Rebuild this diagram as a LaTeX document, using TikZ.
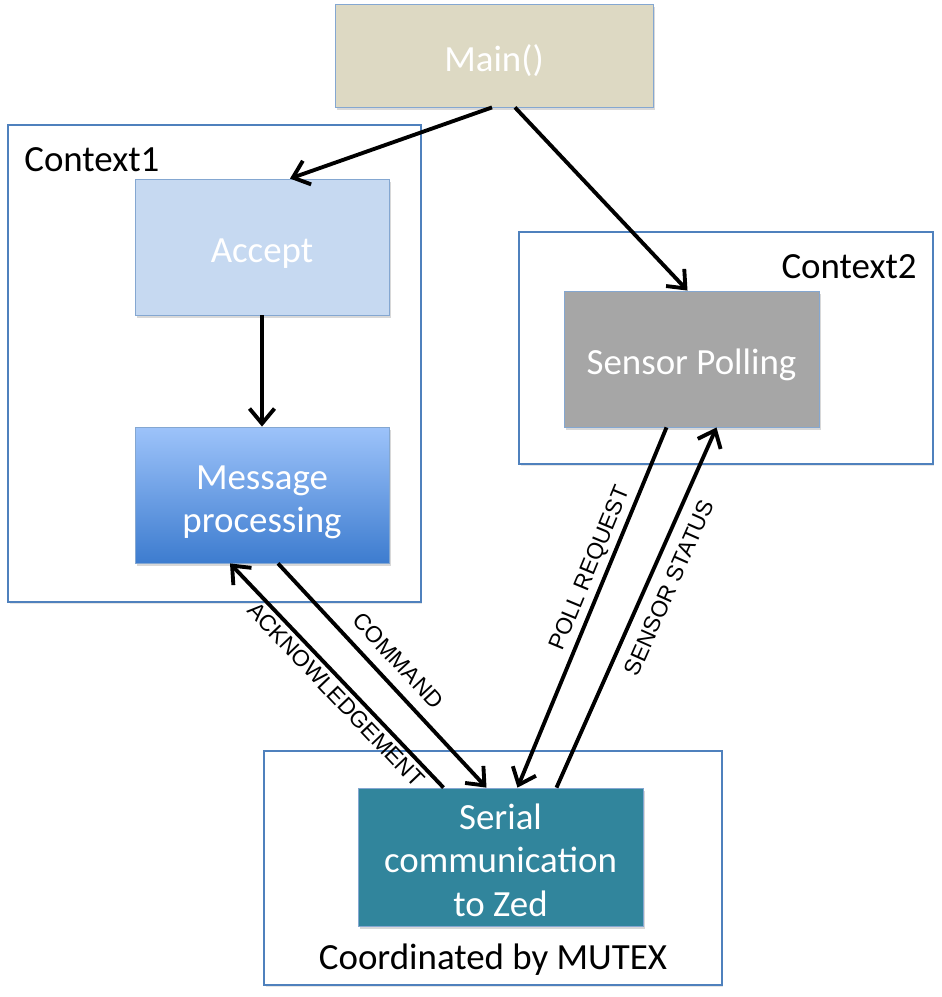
\documentclass[tikz,border=0pt]{standalone}
\usepackage{fontspec}
\setmainfont{Carlito}
\newfontfamily\labelfont{Liberation Sans}
\usetikzlibrary{positioning}
\usetikzlibrary{calc}
\usetikzlibrary{arrows.meta}
\usetikzlibrary{shadows}
\definecolor{framecol}{RGB}{79,129,189}
\definecolor{maincol}{RGB}{221,217,195}
\definecolor{acceptcol}{RGB}{198,217,241}
\definecolor{msgtop}{RGB}{157,195,250}
\definecolor{msgbottom}{RGB}{61,124,207}
\definecolor{sensorcol}{RGB}{166,166,166}
\definecolor{serialcol}{RGB}{49,133,156}

\begin{document}
\begin{tikzpicture}[x=0.02cm, y=-0.02cm,
  frame/.style={draw=framecol, line width=0.8pt, inner sep=0pt, drop shadow={shadow xshift=0.03cm, shadow yshift=-0.04cm, opacity=0.2}, fill=white},
  task/.style={draw=framecol!70, line width=0.5pt, text=white, font=\fontsize{21}{25}\selectfont, align=center, minimum width=5.08cm, minimum height=2.72cm, text height=20pt, text depth=1.8pt, drop shadow={shadow xshift=0.04cm, shadow yshift=-0.06cm, opacity=0.3}},
  twolines/.style={text height=45pt},
  threelines/.style={text height=70pt},
  ctxtext/.style={font=\fontsize{21}{25}\selectfont, inner sep=0pt},
  flow/.style={line width=2.2pt, -{Straight Barb[length=3mm, width=5mm]}},
  msglabel/.style={font=\labelfont\fontsize{13}{13}\selectfont, sloped, text height=0.72em, text depth=0pt}
]
\useasboundingbox (0,0) rectangle (941,997);

% Context frames
\node[frame, minimum width=8.26cm, minimum height=9.54cm] (ctx1) at (214.5,363.5) {};
\node[ctxtext, anchor=west] (ctx1label) at (24,160) {Context1};
\node[frame, minimum width=8.28cm, minimum height=4.64cm] (ctx2) at (726,348) {};
\node[ctxtext, anchor=east] (ctx2label) at (917,267) {Context2};
\node[frame, minimum width=9.16cm, minimum height=4.68cm] (mutex) at (493,868) {};
\node[ctxtext] (mutexlabel) at (493,960) {Coordinated by MUTEX};

% Tasks
\node[task, fill=maincol, minimum width=6.36cm, minimum height=2.06cm] (main) at (494,55.5) {Main()};
\node[task, fill=acceptcol] (accept) at (262,247) {Accept};
\node[task, twolines, top color=msgtop, bottom color=msgbottom] (msg) at (262,495) {Message\\processing};
\node[task, fill=sensorcol, minimum width=5.1cm] (sensor) at (691.5,359) {Sensor Polling};
\node[task, threelines, fill=serialcol, minimum width=5.7cm] (serial) at (500.5,857) {Serial\\communication\\to Zed};

% Start up
\draw[flow] ($(main.south)+(-2,0)$) -- ($(accept.north)+(28,0)$);
\draw[flow] ($(main.south)+(21,0)$) -- ($(sensor.north)+(-4,0)$);
\draw[flow] (accept.south) -- (msg.north);

% Messages
\draw[flow] ($(msg.south)+(16,0)$) -- ($(serial.north)+(-14,0)$) node[msglabel, above, pos=0.5, inner sep=0.24cm] (cmdlabel) {COMMAND};
\draw[flow] ($(serial.north)+(-57,0)$) -- ($(msg.south)+(-32,0)$) node[msglabel, below, pos=0.456, inner sep=0.14cm] (acklabel) {ACKNOWLEDGEMENT};
\draw[flow] ($(sensor.south)+(-25,0)$) -- ($(serial.north)+(17,0)$) node[msglabel, above, pos=0.409, inner sep=0.16cm] (polllabel) {POLL REQUEST};
\draw[flow] ($(serial.north)+(56,0)$) -- ($(sensor.south)+(25,0)$) node[msglabel, below, pos=0.58, inner sep=0.3cm] (statuslabel) {SENSOR STATUS};

\end{tikzpicture}
\end{document}
